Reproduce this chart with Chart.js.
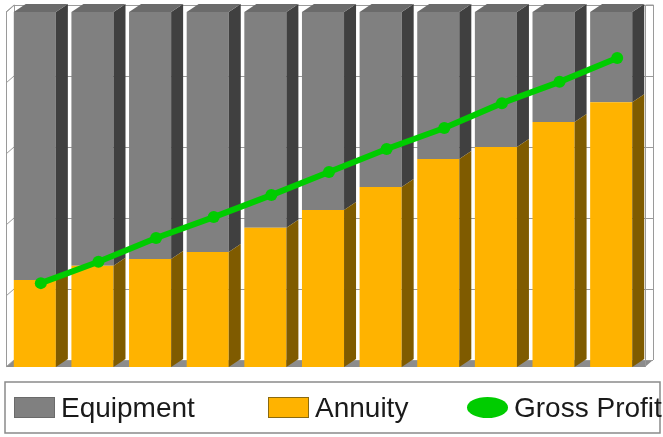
<!DOCTYPE html>
<html>
<head>
<meta charset="utf-8">
<script src="https://cdn.jsdelivr.net/npm/chart.js@4"></script>
<style>
  html, body { margin: 0; padding: 0; background: #fff; }
  #wrap { width: 663px; height: 437px; }
</style>
</head>
<body>
<div id="wrap"><canvas id="c" width="663" height="437"></canvas></div>
<script>
// ---- data ----
const years = ['1', '2', '3', '4', '5', '6', '7', '8', '9', '10', '11'];
const annuity = [24.5, 28.5, 30.4, 32.4, 39.2, 44.2, 50.7, 58.6, 62.0, 69.0, 74.6];
const equipment = [75.5, 71.5, 69.6, 67.6, 60.8, 55.8, 49.3, 41.4, 38.0, 31.0, 25.4];
const grossProfit = [22.5, 28.5, 35.2, 41.1, 47.3, 53.8, 60.3, 66.2, 73.2, 79.2, 85.9];
const yTicks = [0, 20, 40, 60, 80, 100];

// depth of the fake 3D boxes
const DX = 12, DY = 8;
// back wall sits a bit behind the bars
const WX = 8, WY = 7;

const colors = {
  equipment: { front: '#808080', side: '#404040', top: '#6b6b6b' },
  annuity: { front: '#ffb300', side: '#7f5b00', top: '#b07c00' },
  green: '#00cc00',
  wall: '#9a9a9a'
};

// walls, floor and grid lines behind the bars
const wallPlugin = {
  id: 'walls',
  beforeDatasetsDraw(chart) {
    const { ctx, chartArea: a, scales: { y } } = chart;
    const right = a.right + DX + 1;
    ctx.save();
    ctx.lineWidth = 1;
    ctx.strokeStyle = colors.wall;

    // floor
    ctx.fillStyle = '#8c8c8c';
    ctx.beginPath();
    ctx.moveTo(a.left, a.bottom);
    ctx.lineTo(a.left + WX, a.bottom - WY);
    ctx.lineTo(right, a.bottom - WY);
    ctx.lineTo(right - WX, a.bottom);
    ctx.closePath();
    ctx.fill();

    // grid lines on the back wall
    yTicks.forEach(v => {
      const py = Math.round(y.getPixelForValue(v) - WY) + 0.5;
      ctx.beginPath();
      ctx.moveTo(a.left + WX, py);
      ctx.lineTo(right, py);
      ctx.stroke();
      // tick on the left wall
      const fy = y.getPixelForValue(v);
      ctx.beginPath();
      ctx.moveTo(a.left, fy);
      ctx.lineTo(a.left + WX, fy - WY);
      ctx.stroke();
    });

    // left wall
    const top = y.getPixelForValue(100);
    ctx.beginPath();
    ctx.moveTo(a.left + 0.5, a.bottom);
    ctx.lineTo(a.left + 0.5, top);
    ctx.lineTo(a.left + WX + 0.5, top - WY);
    ctx.lineTo(a.left + WX + 0.5, a.bottom - WY);
    ctx.stroke();

    // right edge of the back wall
    ctx.beginPath();
    ctx.moveTo(right - WX + 0.5, a.bottom);
    ctx.lineTo(right - WX + 0.5, top - WY);
    ctx.moveTo(right + 0.5, a.bottom - WY);
    ctx.lineTo(right + 0.5, top - WY);
    ctx.lineTo(right - WX + 0.5, top - WY);
    ctx.stroke();
    ctx.restore();
  }
};

// side and top faces of every box; line is shifted to mid-depth
const boxPlugin = {
  id: 'boxes',
  beforeDatasetDraw(chart, args) {
    if (chart.data.datasets[args.index].type === 'line') {
      chart.ctx.save();
      chart.ctx.translate(DX / 2, -DY / 2);
    }
  },
  afterDatasetDraw(chart, args) {
    const ds = chart.data.datasets[args.index];
    const ctx = chart.ctx;
    if (ds.type === 'line') {
      ctx.restore();
      return;
    }
    const c = ds.faces;
    ctx.save();
    args.meta.data.forEach(bar => {
      const r = bar.x + bar.width / 2;
      const l = bar.x - bar.width / 2;
      const t = bar.y, b = bar.base;
      ctx.fillStyle = c.side;
      ctx.beginPath();
      ctx.moveTo(r, b);
      ctx.lineTo(r, t);
      ctx.lineTo(r + DX, t - DY);
      ctx.lineTo(r + DX, b - DY);
      ctx.closePath();
      ctx.fill();
      if (ds.topFace) {
        ctx.fillStyle = c.top;
        ctx.beginPath();
        ctx.moveTo(l, t);
        ctx.lineTo(l + DX, t - DY);
        ctx.lineTo(r + DX, t - DY);
        ctx.lineTo(r, t);
        ctx.closePath();
        ctx.fill();
      }
    });
    ctx.restore();
  }
};

// boxed legend along the bottom
const legendPlugin = {
  id: 'boxLegend',
  afterDraw(chart) {
    const ctx = chart.ctx;
    ctx.save();
    ctx.fillStyle = '#fff';
    ctx.fillRect(5, 382, 655, 51);
    ctx.strokeStyle = '#8a8a8a';
    ctx.lineWidth = 1.5;
    ctx.strokeRect(5, 382, 655, 51);

    const items = [
      { label: 'Equipment', x: 14, kind: 'box', fill: colors.equipment.front, line: '#6a6a6a' },
      { label: 'Annuity', x: 268, kind: 'box', fill: colors.annuity.front, line: '#8a6a10' },
      { label: 'Gross Profit', x: 467, kind: 'dot', fill: colors.green }
    ];
    ctx.font = '28px "Liberation Sans", Arial, sans-serif';
    ctx.textBaseline = 'alphabetic';
    items.forEach(it => {
      if (it.kind === 'box') {
        ctx.fillStyle = it.fill;
        ctx.fillRect(it.x, 397, 41, 21);
        ctx.strokeStyle = it.line;
        ctx.lineWidth = 1;
        ctx.strokeRect(it.x + 0.5, 397.5, 40, 20);
      } else {
        ctx.fillStyle = it.fill;
        ctx.beginPath();
        ctx.ellipse(it.x + 20.5, 407.5, 20.5, 10.5, 0, 0, Math.PI * 2);
        ctx.fill();
      }
      ctx.fillStyle = '#1a1a1a';
      ctx.fillText(it.label, it.x + 47, 417);
    });
    ctx.restore();
  }
};

new Chart(document.getElementById('c'), {
  data: {
    labels: years,
    datasets: [
      {
        type: 'bar',
        label: 'Annuity',
        data: annuity,
        backgroundColor: colors.annuity.front,
        faces: colors.annuity,
        topFace: false,
        stack: 's'
      },
      {
        type: 'bar',
        label: 'Equipment',
        data: equipment,
        backgroundColor: colors.equipment.front,
        faces: colors.equipment,
        topFace: true,
        stack: 's'
      },
      {
        type: 'line',
        label: 'Gross Profit',
        data: grossProfit,
        borderColor: colors.green,
        backgroundColor: colors.green,
        borderWidth: 6,
        pointRadius: 6,
        pointBorderWidth: 0,
        tension: 0,
        clip: false,
        order: -1
      }
    ]
  },
  options: {
    responsive: false,
    animation: false,
    layout: { padding: { left: 5, right: 23, top: 12, bottom: 70 } },
    datasets: {
      bar: { barPercentage: 0.73, categoryPercentage: 1 }
    },
    scales: {
      x: { display: false, stacked: true },
      y: { display: false, stacked: true, min: 0, max: 100 }
    },
    plugins: {
      legend: { display: false },
      tooltip: { enabled: false }
    }
  },
  plugins: [wallPlugin, boxPlugin, legendPlugin]
});
</script>
</body>
</html>
